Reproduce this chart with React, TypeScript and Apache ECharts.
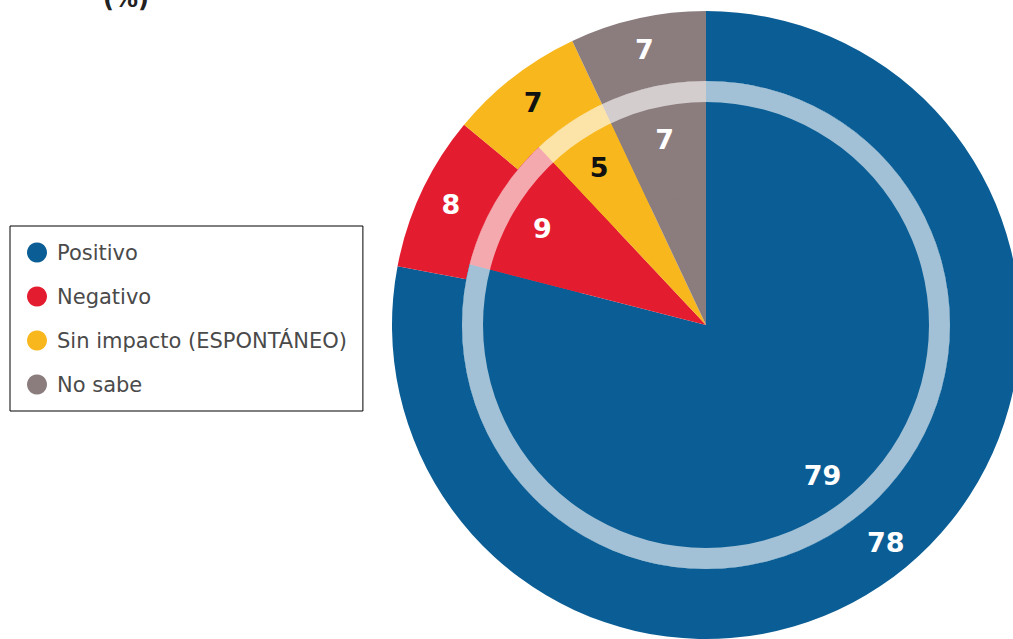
import React, { useEffect, useRef } from "react";
import * as echarts from "echarts";

const categories = ["Positivo", "Negativo", "Sin impacto (ESPONTÁNEO)", "No sabe"];
const outerValues = [78, 8, 7, 7];
const innerValues = [79, 9, 5, 7];
const colors = ["#0b5e95", "#e31d2f", "#f8b71c", "#8b7c7e"];
const labelColors = ["#ffffff", "#ffffff", "#111111", "#ffffff"];

export default function App() {
  const ref = useRef<HTMLDivElement>(null);
  useEffect(() => {
    if (!ref.current) return;
    const chart = echarts.init(ref.current, null, { renderer: "svg" });
    const center = [706, 325];
    const mk = (vals: number[], withLabel: boolean) =>
      categories.map((name, i) => ({
        name,
        value: vals[i],
        itemStyle: { color: colors[i] },
        label: withLabel ? { color: labelColors[i] } : undefined,
      }));
    const labelStyle = {
      show: true,
      position: "inside",
      formatter: "{c}",
      fontFamily: "DejaVu Sans",
      fontWeight: "bold",
      fontSize: 27,
    };
    chart.setOption({
      animation: false,
      title: {
        text: "(%)",
        left: 98,
        top: -18,
        textStyle: { fontSize: 24, fontWeight: "bold", color: "#222", fontFamily: "DejaVu Sans" },
      },
      legend: {
        data: categories,
        orient: "vertical",
        left: 10,
        top: 226,
        borderColor: "#000",
        borderWidth: 1,
        padding: [16, 16, 16, 17],
        itemGap: 23,
        icon: "circle",
        itemWidth: 30,
        itemHeight: 20,
        selectedMode: false,
        textStyle: { fontSize: 21, lineHeight: 20, color: "#4a4a4a", fontFamily: "DejaVu Sans" },
      },
      series: [
        {
          type: "pie",
          name: "outer",
          center,
          radius: [244, 314],
          startAngle: 90,
          clockwise: true,
          silent: true,
          label: labelStyle,
          labelLine: { show: false },
          emphasis: { disabled: true },
          data: mk(outerValues, true),
        },
        {
          type: "pie",
          name: "innerBase",
          center,
          radius: [0, 244],
          startAngle: 90,
          clockwise: true,
          silent: true,
          label: { show: false },
          labelLine: { show: false },
          emphasis: { disabled: true },
          data: mk(innerValues, false),
        },
        {
          type: "pie",
          name: "innerLabels",
          center,
          radius: [130, 244],
          startAngle: 90,
          clockwise: true,
          silent: true,
          label: labelStyle,
          labelLine: { show: false },
          emphasis: { disabled: true },
          data: mk(innerValues, true),
        },
        {
          type: "pie",
          name: "ring",
          center,
          radius: [223, 244],
          silent: true,
          label: { show: false },
          labelLine: { show: false },
          emphasis: { disabled: true },
          data: [{ name: "ring", value: 1, itemStyle: { color: "rgba(255,255,255,0.62)" } }],
        },
      ],
    });
    return () => chart.dispose();
  }, []);
  return (
    <div
      ref={ref}
      style={{ position: "fixed", left: 0, top: 0, width: 1013, height: 639, background: "#fff" }}
    />
  );
}
